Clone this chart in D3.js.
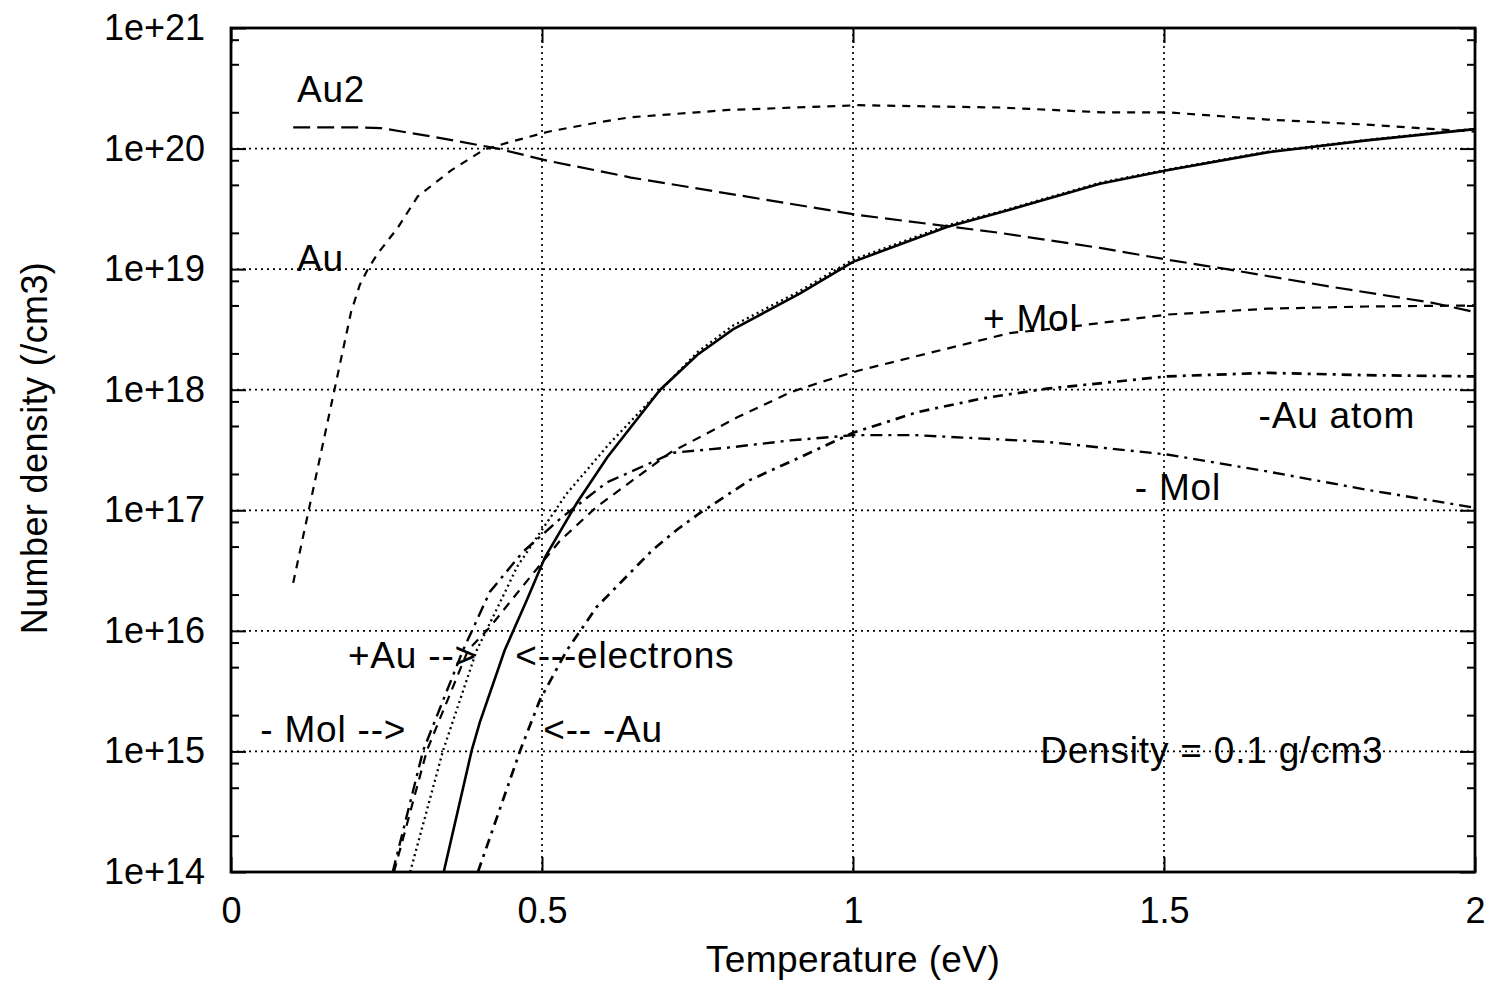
<!DOCTYPE html>
<html>
<head>
<meta charset="utf-8">
<script src="https://cdn.jsdelivr.net/npm/d3@7"></script>
<style>
  body { margin: 0; background: #fff; }
  svg text { font-family: "Liberation Sans", Arial, Helvetica, sans-serif; fill: #000; }
</style>
</head>
<body>
<svg id="chart" width="1492" height="984"></svg>
<script>
// values: [temperature (eV), number density (/cm3)]
var auData = [[0.10, 2.5e16], [0.193, 4.4e18], [0.207, 7.4e18], [0.22, 1.0e19], [0.236, 1.35e19],
    [0.268, 2.2e19], [0.30, 4.0e19], [0.354, 6.6e19], [0.407, 9.8e19], [0.445, 1.12e20],
    [0.51, 1.38e20], [0.593, 1.66e20], [0.643, 1.82e20], [0.80, 2.09e20], [1.01, 2.29e20],
    [1.236, 2.19e20], [1.40, 2.0e20], [1.505, 2.0e20], [1.666, 1.74e20], [1.826, 1.58e20], [2.0, 1.38e20]];
var au2Data = [[0.10, 1.5e20], [0.20, 1.5e20], [0.241, 1.48e20], [0.322, 1.26e20], [0.429, 1.0e20],
    [0.51, 7.9e19], [0.593, 6.5e19], [0.643, 5.75e19], [1.011, 2.8e19], [1.236, 2.0e19],
    [1.397, 1.5e19], [1.505, 1.2e19], [1.611, 9.8e18], [1.772, 7.1e18], [1.932, 5.25e18], [2.0, 4.4e18]];
var electronData = [[0.342, 1.0e14], [0.387, 1.02e15], [0.40, 1.74e15], [0.44, 6.9e15], [0.476, 1.82e16],
    [0.505, 4.1e16], [0.556, 1.15e17], [0.605, 2.75e17], [0.69, 1.0e18], [0.75, 1.95e18], [0.807, 3.16e18],
    [0.915, 6.3e18], [1.0, 1.15e19], [1.151, 2.24e19], [1.236, 2.95e19], [1.397, 5.1e19],
    [1.505, 6.6e19], [1.666, 9.3e19], [1.826, 1.17e20], [2.0, 1.45e20]];
var auPlusData = [[0.288, 1.0e14], [0.341, 1.02e15], [0.395, 6.9e15], [0.432, 1.7e16], [0.46, 3.4e16],
    [0.492, 6.0e16], [0.54, 1.38e17], [0.609, 3.6e17], [0.669, 7.6e17], [0.75, 2.05e18], [0.807, 3.4e18],
    [0.915, 6.6e18], [1.0, 1.2e19], [1.151, 2.3e19], [1.236, 3.0e19], [1.397, 5.2e19],
    [1.505, 6.7e19], [1.666, 9.4e19], [1.826, 1.18e20], [2.0, 1.46e20]];
var auMinusData = [[0.397, 1.0e14], [0.465, 1.02e15], [0.497, 2.7e15], [0.54, 6.9e15], [0.588, 1.58e16],
    [0.678, 4.7e16], [0.717, 6.9e16], [0.754, 9.5e16], [0.834, 1.78e17], [0.915, 2.75e17],
    [1.0, 4.4e17], [1.103, 6.5e17], [1.209, 8.5e17], [1.312, 1.02e18], [1.505, 1.29e18],
    [1.666, 1.38e18], [1.826, 1.32e18], [2.0, 1.29e18]];
var molMinusData = [[0.26, 1.0e14], [0.309, 1.02e15], [0.373, 6.9e15], [0.416, 2.1e16], [0.469, 4.5e16],
    [0.529, 8.5e16], [0.604, 1.7e17], [0.711, 3.0e17], [0.797, 3.3e17], [0.899, 3.8e17],
    [1.0, 4.2e17], [1.10, 4.2e17], [1.31, 3.7e17], [1.505, 2.9e17], [1.666, 2.1e17],
    [1.826, 1.48e17], [2.0, 1.05e17]];
var molPlusData = [[0.262, 1.0e14], [0.315, 1.02e15], [0.381, 6.9e15], [0.416, 1.07e16], [0.476, 2.6e16],
    [0.529, 5.6e16], [0.588, 1.07e17], [0.706, 3.0e17], [0.814, 5.9e17], [0.899, 9.5e17],
    [0.947, 1.15e18], [1.011, 1.45e18], [1.252, 2.95e18], [1.344, 3.3e18], [1.505, 4.2e18],
    [1.666, 4.7e18], [1.826, 4.9e18], [2.0, 5.0e18]];

var xTicks = [0, 0.5, 1, 1.5, 2];
var xTickLabels = ['0', '0.5', '1', '1.5', '2'];
var yTicks = [1e14, 1e15, 1e16, 1e17, 1e18, 1e19, 1e20, 1e21];
var yTickLabels = ['1e+14', '1e+15', '1e+16', '1e+17', '1e+18', '1e+19', '1e+20', '1e+21'];
var yMinorSteps = [2, 5, 8];

// text placed on the plot: [text, temperature, density at baseline]
var notes = [
    ['Au2', 0.106, 2.43e20],
    ['Au', 0.106, 9.66e18],
    ['+ Mol', 1.209, 3.07e18],
    ['-Au atom', 1.652, 4.81e17],
    ['- Mol', 1.453, 1.22e17],
    ['+Au -->', 0.188, 4.92e15],
    ['<---electrons', 0.457, 4.92e15],
    ['- Mol -->', 0.047, 1.2e15],
    ['<-- -Au', 0.502, 1.2e15],
    ['Density = 0.1 g/cm3', 1.301, 8.0e14]
];

var margin = { top: 28, right: 17, bottom: 112, left: 231 },
    width = 1492 - margin.left - margin.right,
    height = 984 - margin.top - margin.bottom;

var svg = d3.select('#chart');
var g = svg.append('g').attr('transform', 'translate(' + margin.left + ',' + margin.top + ')');

var x = d3.scaleLinear().domain([0, 2]).range([0, width]);
var y = d3.scaleLog().domain([1e14, 1e21]).range([height, 0]);

var yMinor = [];
yTicks.slice(0, -1).forEach(function(t) {
    yMinorSteps.forEach(function(m) { yMinor.push(t * m); });
});

// grid
g.append('g').selectAll('line.gx')
    .data(xTicks.slice(1, -1)).enter().append('line')
    .attr('x1', d => x(d)).attr('x2', d => x(d))
    .attr('y1', 0).attr('y2', height)
    .attr('stroke', '#000').attr('stroke-width', 1.7).attr('stroke-dasharray', '2,4');
g.append('g').selectAll('line.gy')
    .data(yTicks.slice(1, -1)).enter().append('line')
    .attr('x1', 0).attr('x2', width)
    .attr('y1', d => y(d)).attr('y2', d => y(d))
    .attr('stroke', '#000').attr('stroke-width', 1.7).attr('stroke-dasharray', '2,4');

// axes (ticks inward, mirrored)
var fs = 36;
function styleAxis(sel) {
    sel.select('.domain').remove();
    sel.selectAll('.tick line').attr('stroke', '#000').attr('stroke-width', 2);
    sel.selectAll('.tick text').style('font-size', fs + 'px').attr('fill', '#000');
}
g.append('g')
    .call(d3.axisLeft(y).tickValues(yTicks).tickSize(-15).tickPadding(26)
        .tickFormat((d, i) => yTickLabels[i]))
    .call(styleAxis);
g.append('g')
    .call(d3.axisLeft(y).tickValues(yMinor).tickSize(-8).tickFormat(''))
    .call(styleAxis);
g.append('g').attr('transform', 'translate(' + width + ',0)')
    .call(d3.axisRight(y).tickValues(yTicks).tickSize(-15).tickFormat(''))
    .call(styleAxis);
g.append('g').attr('transform', 'translate(' + width + ',0)')
    .call(d3.axisRight(y).tickValues(yMinor).tickSize(-8).tickFormat(''))
    .call(styleAxis);
g.append('g').attr('transform', 'translate(0,' + height + ')')
    .call(d3.axisBottom(x).tickValues(xTicks).tickSize(-15).tickPadding(25)
        .tickFormat((d, i) => xTickLabels[i]))
    .call(styleAxis);
g.append('g')
    .call(d3.axisTop(x).tickValues(xTicks).tickSize(-15).tickFormat(''))
    .call(styleAxis);

// curves
g.append('clipPath').attr('id', 'clip')
    .append('rect').attr('width', width).attr('height', height);

var line = d3.line().x(d => x(d[0])).y(d => y(d[1]));
var series = [
    { data: au2Data, dash: '17,7', w: 2.2 },
    { data: auData, dash: '8,7', w: 2.2 },
    { data: molPlusData, dash: '9,7', w: 2.2 },
    { data: auPlusData, dash: '2,3.5', w: 2.3 },
    { data: electronData, dash: null, w: 2.6 },
    { data: auMinusData, dash: '10,6,3,6', w: 2.7 },
    { data: molMinusData, dash: '12,6,3,6', w: 2.4 }
];
g.append('g').attr('clip-path', 'url(#clip)')
    .selectAll('path').data(series).enter().append('path')
    .attr('d', d => line(d.data))
    .attr('fill', 'none')
    .attr('stroke', '#000')
    .attr('stroke-width', d => d.w)
    .attr('stroke-dasharray', d => d.dash);

// frame
g.append('rect').attr('width', width).attr('height', height)
    .attr('fill', 'none').attr('stroke', '#000').attr('stroke-width', 2.8);

// annotations
g.append('g').selectAll('text').data(notes).enter().append('text')
    .attr('x', d => x(d[1])).attr('y', d => y(d[2]))
    .style('font-size', '37px')
    .style('letter-spacing', '0.8px')
    .text(d => d[0]);

// axis titles
svg.append('text')
    .attr('x', margin.left + width / 2).attr('y', 972)
    .attr('text-anchor', 'middle').style('font-size', '37px')
    .style('letter-spacing', '0.4px')
    .text('Temperature (eV)');
svg.append('text')
    .attr('transform', 'translate(47,448) rotate(-90)')
    .attr('text-anchor', 'middle').style('font-size', fs + 'px')
    .style('letter-spacing', '0.4px')
    .text('Number density (/cm3)');
</script>
</body>
</html>
